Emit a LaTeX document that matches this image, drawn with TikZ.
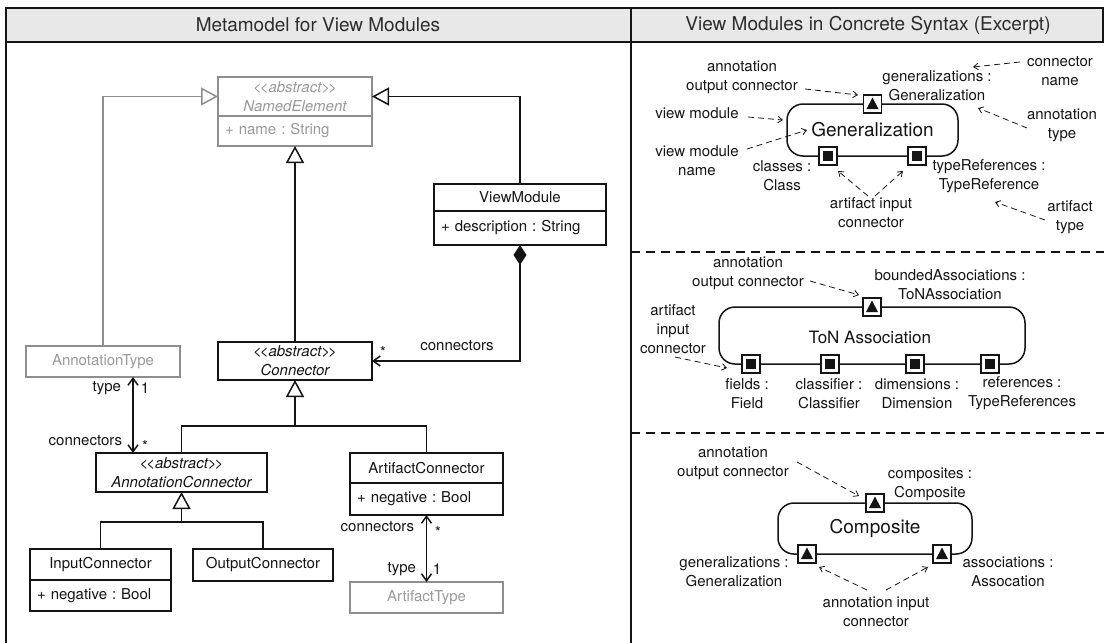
\documentclass[tikz,border=0pt]{standalone}
\usepackage{fontspec}
\setmainfont{TeX Gyre Heros}
\usetikzlibrary{arrows.meta,calc}
\definecolor{ink}{HTML}{141414}
\definecolor{greyline}{HTML}{8E8E8E}
\definecolor{greytext}{HTML}{9A9A9A}
\definecolor{headfill}{HTML}{E8E8E8}
% stereotype brackets kept as plain, tightly set < and > characters
\newcommand\stereo[1]{<\kern-2pt<#1>\kern-2pt>}
\frenchspacing
\begin{document}
\begin{tikzpicture}[x=1pt,y=-1pt,
  every node/.style={inner sep=0pt, outer sep=0pt},
  lbl/.style={font=\fontsize{15}{19}\selectfont, text=ink, align=center},
  ttl/.style={font=\fontsize{19}{23}\selectfont, text=ink!90},
  cls/.style={draw=ink, line width=1.5pt, fill=white, font=\fontsize{15}{19}\selectfont, text=ink, align=center},
  gcls/.style={cls, draw=greyline, text=greytext},
  abs/.style={font=\fontsize{15}{19}\selectfont\itshape},
  attr/.style={align=left, anchor=north},
  uml/.style={draw=ink, line width=1.5pt},
  guml/.style={draw=greyline, line width=1.5pt},
  gen/.style={-{Triangle[open, length=17pt, width=18pt]}},
  genstart/.style={{Triangle[open, length=17pt, width=18pt]}-},
  nav/.style={{Straight Barb[length=7pt, width=10pt]}-{Straight Barb[length=7pt, width=10pt]}},
  frame/.style={draw=ink, line width=2pt},
  sepline/.style={draw=ink, line width=1.5pt, dash pattern=on 9pt off 6pt},
  callout/.style={draw=ink, line width=0.8pt, dash pattern=on 6pt off 4pt, -{Straight Barb[length=4.5pt, width=6.5pt]}},
  vmod/.style={draw=ink, line width=1.5pt, rounded corners=16pt, fill=white, text=ink},
  port/.style={draw=ink, line width=1.5pt, fill=white, minimum size=18pt},
  outport/.style={port, path picture={
      \fill[ink] ([shift={(-6pt,-5pt)}]path picture bounding box.center)
        -- ([shift={(6pt,-5pt)}]path picture bounding box.center)
        -- ([shift={(0pt,6.5pt)}]path picture bounding box.center) -- cycle;}},
  inport/.style={port, path picture={
      \fill[ink] ([shift={(-5pt,-5pt)}]path picture bounding box.center)
        rectangle ([shift={(5pt,5pt)}]path picture bounding box.center);}},
]
\useasboundingbox (0,0) rectangle (1104,643);

% ---------- frame and headers ----------
\draw[frame, fill=headfill] (6,8) rectangle (1103,42);
\draw[frame] (6,42) -- (6,643);
\draw[frame] (631,8) -- (631,643);
\node[ttl] (t1) at (318,25) {Metamodel for View Modules};
\node[ttl] (t2) at (868,25) {View Modules in Concrete Syntax (Excerpt)};

% ---------- metamodel classes ----------
\node[gcls, abs, text=greytext, minimum width=154, minimum height=39] (neh) at (295,96.5) {\stereo{abstract}\\NamedElement};
\node[gcls, attr, minimum width=154, minimum height=30, text width=140] (nea) at (neh.south) {+ name : String};

\node[cls, minimum width=172, minimum height=27] (vmh) at (520,197.5) {ViewModule};
\node[cls, attr, minimum width=172, minimum height=34, text width=158] (vma) at (vmh.south) {+ description : String};

\node[cls, abs, minimum width=154, minimum height=38] (con) at (295,361) {\stereo{abstract}\\Connector};
\node[gcls, minimum width=154, minimum height=31] (at) at (103,361.5) {AnnotationType};

\node[cls, abs, minimum width=171, minimum height=39] (ac) at (181.5,472.5) {\stereo{abstract}\\AnnotationConnector};
\node[cls, minimum width=153, minimum height=30] (afh) at (426.5,468) {ArtifactConnector};
\node[cls, attr, minimum width=153, minimum height=32, text width=139] (afa) at (afh.south) {+ negative : Bool};

\node[cls, minimum width=141, minimum height=31] (ich) at (100.5,564.5) {InputConnector};
\node[cls, attr, minimum width=141, minimum height=31, text width=127] (ica) at (ich.south) {+ negative : Bool};
\node[cls, minimum width=140, minimum height=32] (oc) at (263,565) {OutputConnector};
\node[gcls, minimum width=153, minimum height=31] (aft) at (426.5,597.5) {ArtifactType};

% ---------- metamodel relations ----------
\draw[guml, gen] (at.north) |- (neh.west);
\draw[uml, gen] (vmh.north) |- (neh.east);
\draw[uml, gen] (con.north) -- (nea.south);
\draw[uml, {Diamond[length=20pt, width=13pt]}-{Straight Barb[length=7pt, width=10pt]}] (vma.south) |- (con.east);

\coordinate (busA) at (295,426);
\draw[uml, genstart] (con.south) -- (busA);
\draw[uml] (ac.north) |- (busA) -| (afh.north);
\coordinate (busB) at (181.5,522);
\draw[uml, genstart] (ac.south) -- (busB);
\draw[uml] (ich.north) |- (busB) -| (oc.north);

\coordinate (atx) at (133,0);
\draw[uml, nav] (at.south -| atx) -- (ac.north -| atx);
\draw[uml, nav] (afa.south) -- (aft.north);

% role names and multiplicities
\node[lbl, anchor=east] (r1) at (121,388) {type};
\node[lbl] (m1) at (145,388) {1};
\node[lbl, anchor=east] (r2) at (122,441) {connectors};
\node[lbl] (m2) at (145,446) {*};
\node[lbl] (r3) at (457,346) {connectors};
\node[lbl] (m3) at (383,352) {*};
\node[lbl, anchor=east] (r4) at (414,527) {connectors};
\node[lbl] (m4) at (438,532) {*};
\node[lbl, anchor=east] (r5) at (416,569) {type};
\node[lbl] (m5) at (437,569) {1};

% ---------- view module: Generalization ----------
\node[vmod, minimum width=171, minimum height=52, font=\fontsize{19}{23}\selectfont] (gm) at (872.5,130) {Generalization};
\node[outport] (gout) at (gm.north) {};
\node[inport] (gin1) at (828,156) {};
\node[inport] (gin2) at (917,156) {};

\node[lbl] (ga1) at (742,77.5) {annotation\\output connector};
\node[lbl] (ga2) at (937,86) {generalizations :\\Generalization};
\node[lbl] (ga3) at (1060,71.5) {connector\\name};
\node[lbl] (ga4) at (697,113) {view module};
\node[lbl] (ga5) at (697,161) {view module\\name};
\node[lbl] (ga6) at (1062,125) {annotation\\type};
\node[lbl] (ga7) at (782,176) {classes :\\Class};
\node[lbl] (ga8) at (989,176) {typeReferences :\\TypeReference};
\node[lbl] (ga9) at (871,212.5) {artifact input\\connector};
\node[lbl] (ga10) at (1070,217) {artifact\\type};

\coordinate (p1s) at (805,89);   \coordinate (p1e) at (858,95);
\coordinate (p2s) at (1020,62);  \coordinate (p2e) at (973,67);
\coordinate (p3s) at (748,117);  \coordinate (p3e) at (783,120);
\coordinate (p4s) at (747,149);  \coordinate (p4e) at (807,130);
\coordinate (p5s) at (1027,128); \coordinate (p5e) at (978,108);
\coordinate (p6s) at (868,196);  \coordinate (p6e) at (838,171);
\coordinate (p7s) at (875,196);  \coordinate (p7e) at (903,171);
\coordinate (p8s) at (1045,220); \coordinate (p8e) at (995,202);
\foreach \i in {1,...,8} {\draw[callout] (p\i s) -- (p\i e);}

\draw[sepline] (631,252) -- (1104,252);

% ---------- view module: ToN Association ----------
\node[vmod, minimum width=306, minimum height=57] (tn) at (872,335.5) {};
\node[font=\fontsize{17}{21}\selectfont, text=ink] (tnt) at (870,337) {ToN Association};
\node[outport] (tout) at (tn.north) {};
\node[inport] (tin1) at (751,364) {};
\node[inport] (tin2) at (830,364) {};
\node[inport] (tin3) at (915,364) {};
\node[inport] (tin4) at (990,364) {};

\node[lbl] (tb1) at (748,273) {annotation\\output connector};
\node[lbl] (tb2) at (950,285) {boundedAssociations :\\ToNAssociation};
\node[lbl] (tb3) at (673,329.5) {artifact\\input\\connector};
\node[lbl] (tb4) at (747,393.5) {fields :\\Field};
\node[lbl] (tb5) at (829,393.5) {classifier :\\Classifier};
\node[lbl] (tb6) at (917,393.5) {dimensions :\\Dimension};
\node[lbl] (tb7) at (1022,393.5) {references :\\TypeReferences};

\coordinate (q1s) at (810,281); \coordinate (q1e) at (859,295);
\coordinate (q2s) at (675,357); \coordinate (q2e) at (727,368);
\draw[callout] (q1s) -- (q1e);
\draw[callout] (q2s) -- (q2e);

\draw[sepline] (631,433) -- (1104,433);

% ---------- view module: Composite ----------
\node[vmod, minimum width=194, minimum height=51, font=\fontsize{19}{23}\selectfont] (cm) at (875,528.5) {Composite};
\node[outport] (cout) at (cm.north) {};
\node[outport] (cin1) at (807,554) {};
\node[outport] (cin2) at (942,554) {};

\node[lbl] (cc1) at (733,463.5) {annotation\\output connector};
\node[lbl] (cc2) at (930,484) {composites :\\Composite};
\node[lbl] (cc3) at (734,571.5) {generalizations :\\Generalization};
\node[lbl] (cc4) at (1008,571.5) {associations :\\Assocation};
\node[lbl] (cc5) at (876,611.5) {annotation input\\connector};

\coordinate (s1s) at (797,462); \coordinate (s1e) at (859,496);
\coordinate (s2s) at (867,590); \coordinate (s2e) at (819,567);
\coordinate (s3s) at (886,590); \coordinate (s3e) at (928,567);
\draw[callout] (s1s) -- (s1e);
\draw[callout] (s2s) -- (s2e);
\draw[callout] (s3s) -- (s3e);
\end{tikzpicture}
\end{document}
